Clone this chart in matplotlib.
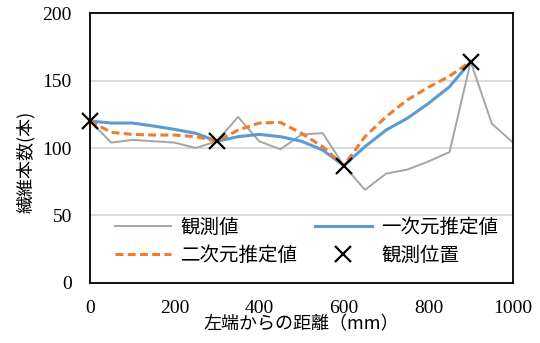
import matplotlib
matplotlib.use("Agg")
import matplotlib.pyplot as plt

plt.rcParams['font.family'] = ['Noto Sans CJK JP', 'DejaVu Sans']

# 観測値 (50mm間隔)
dist_obs = [0, 50, 100, 150, 200, 250, 300, 350, 400, 450, 500,
            550, 600, 650, 700, 750, 800, 850, 900, 950, 1000]
fiber_obs = [120, 104, 106, 105, 104, 100, 105, 123, 105, 99, 110,
             111, 87, 69, 81, 84, 90, 97, 164, 118, 104]

# 推定値 (0〜900mm)
dist_est = [0, 50, 100, 150, 200, 250, 300, 350, 400, 450,
            500, 550, 600, 650, 700, 750, 800, 850, 900]
fiber_lin = [120, 118.5, 118.5, 116.3, 113.8, 110.9, 105, 108.4, 110.1, 108.4,
             105, 98.5, 87, 101, 113.3, 122, 133, 145.4, 164]
fiber_quad = [120, 111.6, 110.1, 109.6, 109.6, 108.4, 105, 113.3, 118.5, 119,
              110.9, 101, 87, 108.4, 123.2, 135.6, 145, 153.3, 164]

# 観測位置
dist_pt = [0, 300, 600, 900]
fiber_pt = [120, 105, 87, 164]

fig = plt.figure(figsize=(5.4, 3.43), dpi=100)
ax = fig.add_axes([0.1667, 0.175, 0.7833, 0.787])

ax.plot(dist_obs, fiber_obs, color='#A5A5A5', lw=1.4, label='観測値')
ax.plot(dist_est, fiber_lin, color='#5B9BD5', lw=2.2, label='一次元推定値')
ax.plot(dist_est, fiber_quad, color='#ED7D31', lw=2.2, ls=(0, (2.6, 1.4)),
        label='二次元推定値')
ax.plot(dist_pt, fiber_pt, ls='none', marker='x', ms=12, mew=1.6,
        color='black', clip_on=False, zorder=5, label='観測位置')

ax.set_xlim(0, 1000)
ax.set_ylim(0, 200)
ax.set_xticks([0, 200, 400, 600, 800, 1000])
ax.set_yticks([0, 50, 100, 150, 200])
ax.yaxis.grid(True, color='#D9D9D9', lw=1.3)
ax.set_axisbelow(True)
ax.tick_params(length=0)
ax.tick_params(axis='x', pad=12)
ax.tick_params(axis='y', pad=13)
for lab in ax.get_xticklabels() + ax.get_yticklabels():
    lab.set_fontfamily('Liberation Serif')
    lab.set_fontsize(14)
for sp in ax.spines.values():
    sp.set_linewidth(1.3)
    sp.set_color('black')

ax.set_xlabel('左端からの距離（mm）', fontsize=13, labelpad=-1)
ax.set_ylabel('繊維本数(本)', fontsize=13, labelpad=6)
ax.yaxis.set_label_coords(-0.13, 0.45)

# 行ごとに並べる: 観測値/一次元推定値, 二次元推定値/観測位置
handles, labels = ax.get_legend_handles_labels()
order = [0, 2, 1, 3]
ax.legend([handles[i] for i in order], [labels[i] for i in order],
          ncol=2, frameon=False, fontsize=14, loc='upper left',
          bbox_to_anchor=(0.035, 0.28), borderpad=0, handlelength=2.9,
          handletextpad=0.5, columnspacing=0.9, labelspacing=0.35)

fig.savefig('out.png', dpi=100)
